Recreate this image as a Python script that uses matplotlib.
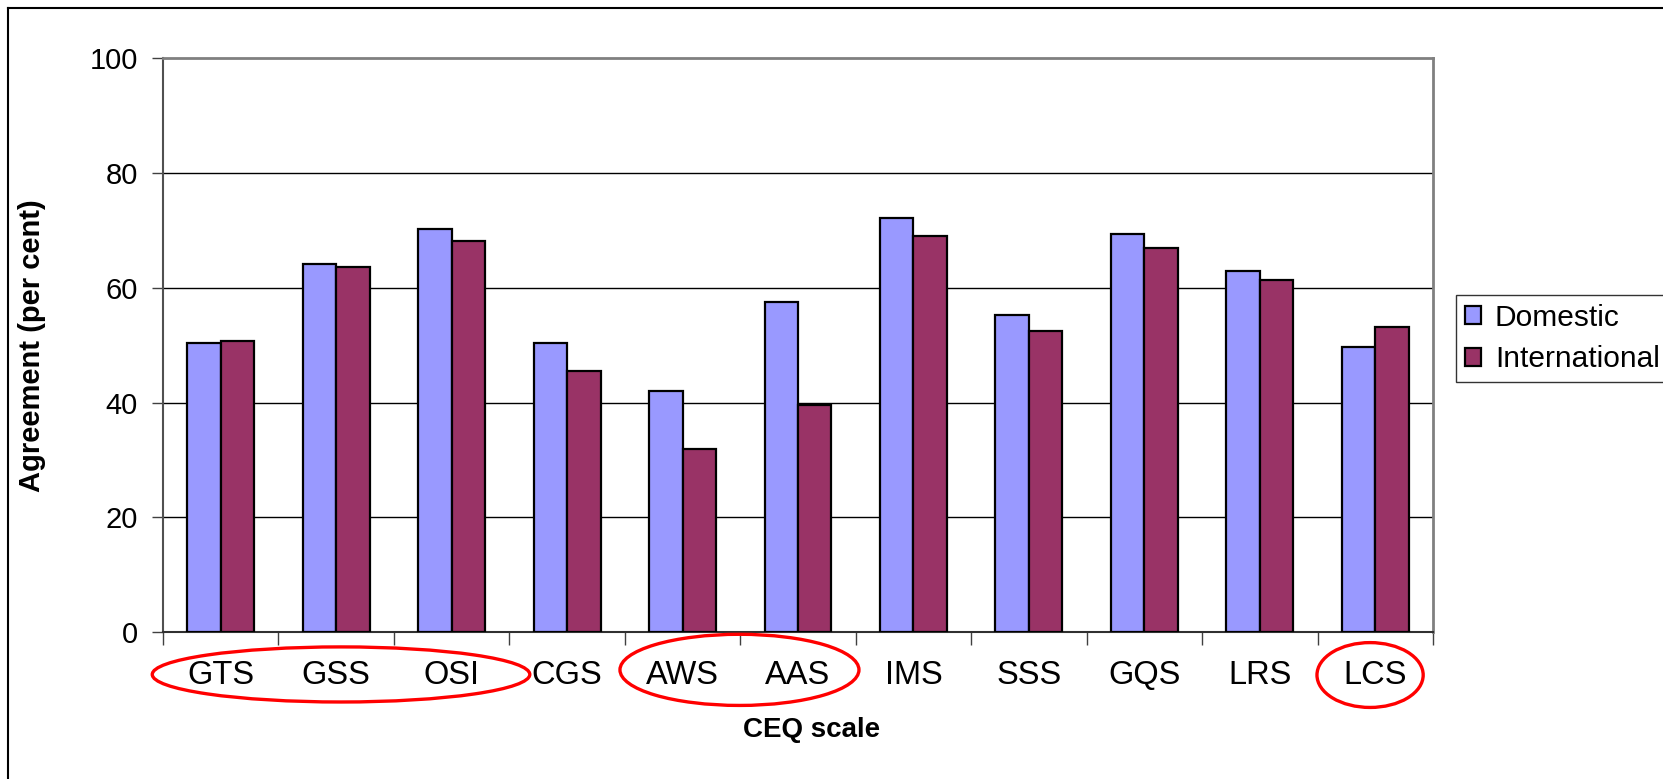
import matplotlib
matplotlib.use("Agg")
import matplotlib.pyplot as plt
from matplotlib.patches import Ellipse
from matplotlib.lines import Line2D
from matplotlib.transforms import blended_transform_factory
import numpy as np

categories = ["GTS", "GSS", "OSI", "CGS", "AWS", "AAS", "IMS", "SSS", "GQS", "LRS", "LCS"]
domestic = [50.4, 64.1, 70.2, 50.4, 42.0, 57.6, 72.2, 55.3, 69.4, 62.9, 49.7]
international = [50.8, 63.7, 68.2, 45.5, 31.9, 39.6, 69.0, 52.5, 66.9, 61.3, 53.2]
series_names = ["Domestic", "International"]
y_ticks = [0, 20, 40, 60, 80, 100]
x_title = "CEQ scale"
y_title = "Agreement (per cent)"

col_dom = "#9999FF"
col_int = "#993366"

plt.rcParams['font.family'] = ['Liberation Sans', 'DejaVu Sans']
narrow = ['Liberation Sans Narrow', 'Liberation Sans', 'DejaVu Sans']

fig = plt.figure(figsize=(16.63, 7.79), dpi=100)
W, H = 1663, 779
ax = fig.add_axes([163 / W, 1 - 632 / H, (1433 - 163) / W, (632 - 58.3) / H])

x = np.arange(len(categories))
bw = 0.29
ax.bar(x - bw / 2, domestic, bw, color=col_dom, edgecolor="black", linewidth=1.6,
       label=series_names[0], zorder=3)
ax.bar(x + bw / 2, international, bw, color=col_int, edgecolor="black", linewidth=1.6,
       label=series_names[1], zorder=3)

ax.set_xlim(-0.5, len(categories) - 0.5)
ax.set_ylim(0, 100)
ax.set_yticks(y_ticks)
ax.set_yticklabels([str(v) for v in y_ticks], fontsize=21)
ax.tick_params(axis='y', direction='out', length=8, width=1, color='#404040', pad=10)

ax.set_xticks(x)
ax.set_xticklabels(categories)
for lab in ax.get_xticklabels():
    lab.set_family(narrow)
    lab.set_fontsize(23.5)
ax.tick_params(axis='x', which='major', length=0, pad=20)
ax.set_xticks(np.arange(-0.5, len(categories)), minor=True)
ax.tick_params(axis='x', which='minor', direction='out', length=9, width=1, color='#404040')

for v in y_ticks[1:-1]:
    ax.axhline(v, color='black', linewidth=1.0, zorder=1)

for s in ['top', 'right']:
    ax.spines[s].set_color('#808080')
    ax.spines[s].set_linewidth(2)
ax.spines['left'].set_color('#505050')
ax.spines['left'].set_linewidth(1.5)
ax.spines['bottom'].set_color('#303030')
ax.spines['bottom'].set_linewidth(1.5)

ax.set_ylabel(y_title, fontsize=21, fontweight='bold', va='center')
ax.yaxis.set_label_coords(-0.1031, 0.5)
ax.set_xlabel(x_title, fontsize=20, fontweight='bold', va='center', family=narrow)
ax.xaxis.set_label_coords(0.511, -0.171)

leg = ax.legend(loc='upper left', bbox_to_anchor=(1456 / W, 1 - 295 / H),
                bbox_transform=fig.transFigure, fontsize=21.5, frameon=True,
                fancybox=False, shadow=False, handlelength=0.55, handleheight=0.55,
                handletextpad=0.45, borderpad=0.3, labelspacing=0.45, borderaxespad=0)
leg.get_frame().set_edgecolor('black')
leg.get_frame().set_linewidth(1.0)

# red highlight ellipses around category groups: (center in category units,
# y-center in axes fraction, width in category units, height in axes fraction)
tr = blended_transform_factory(ax.transData, ax.transAxes)
ell_specs = [(1.042, -0.074, 3.27, 0.096),
             (4.493, -0.066, 2.07, 0.124),
             (9.955, -0.075, 0.92, 0.113)]
for cx, cy, w, h in ell_specs:
    e = Ellipse((cx, cy), w, h, transform=tr, fill=False,
                edgecolor='#FF0000', linewidth=2.4, clip_on=False, zorder=5)
    ax.add_artist(e)

# outer frame lines
fig.add_artist(Line2D([8 / W, 8 / W], [0, 1 - 8 / H], transform=fig.transFigure,
                      color='black', linewidth=1.5))
fig.add_artist(Line2D([8 / W, 1], [1 - 8 / H, 1 - 8 / H], transform=fig.transFigure,
                      color='black', linewidth=1.5))

fig.savefig("out.png", dpi=100)
